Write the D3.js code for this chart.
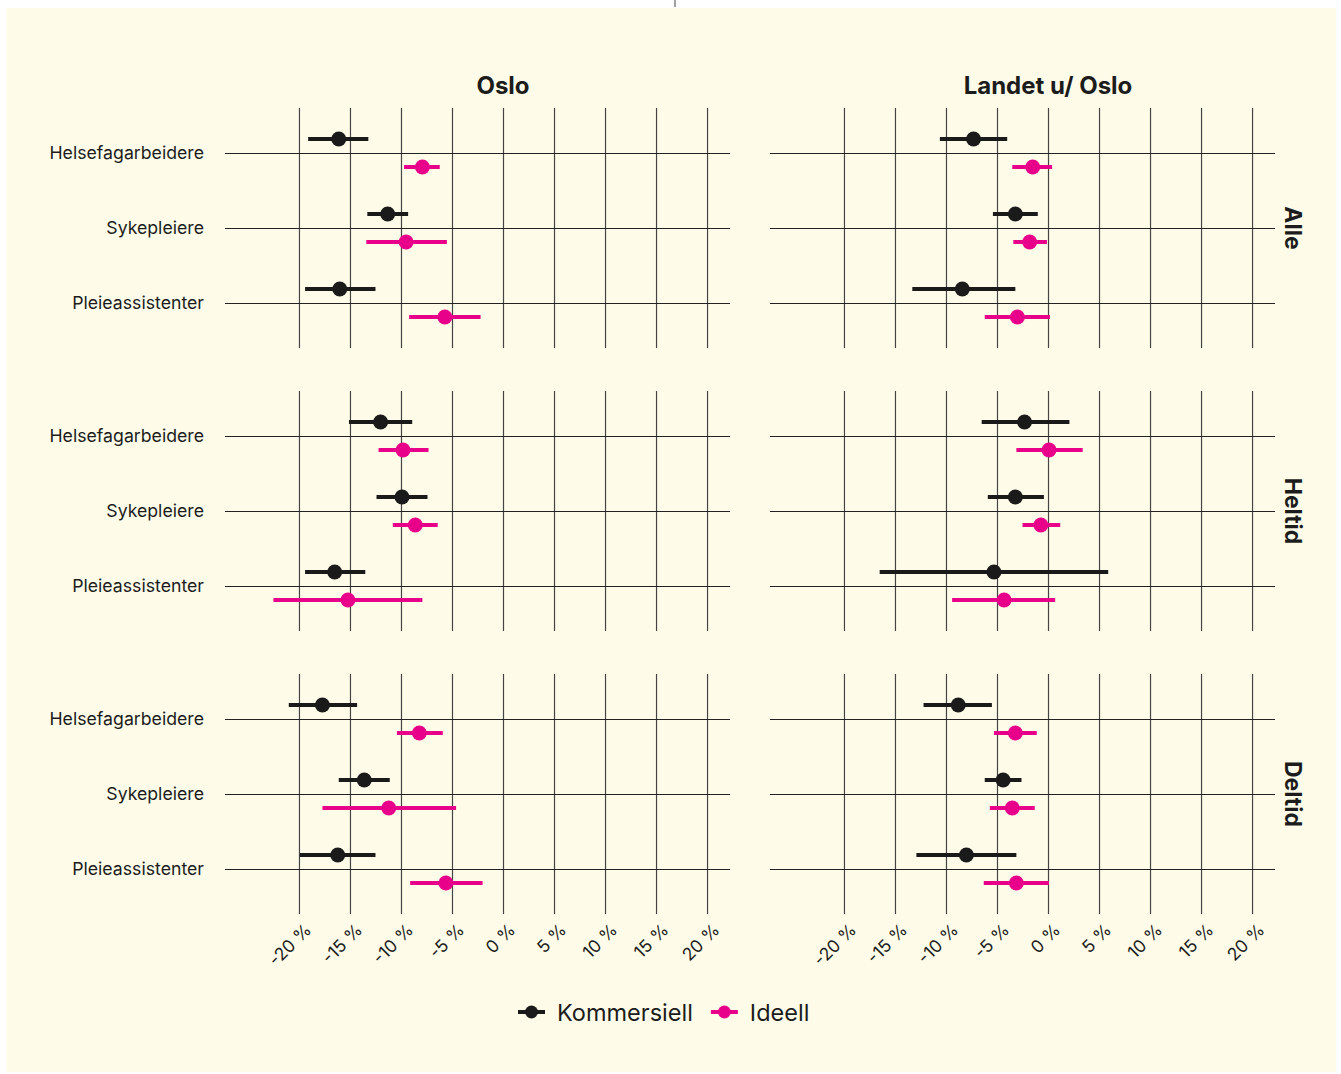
<!DOCTYPE html>
<html>
<head>
<meta charset="utf-8">
<script src="https://cdn.jsdelivr.net/npm/d3@7"></script>
<style>
  body { margin: 0; background: #fff; }
  text { font-family: Inter, "Noto Sans", sans-serif; fill: #1c1c1c; }
</style>
</head>
<body>
<svg id="chart" width="1341" height="1074"></svg>
<script>
// categories and facets
var categories = ["Helsefagarbeidere", "Sykepleiere", "Pleieassistenter"];
var regions = ["Oslo", "Landet u/ Oslo"];
var groups = ["Alle", "Heltid", "Deltid"];
var series = ["Kommersiell", "Ideell"];
var tickValues = [-20, -15, -10, -5, 0, 5, 10, 15, 20];

// [estimate, lower, upper] in %, one row per category
var osloAlleKomm   = [[-16.1, -19.1, -13.2], [-11.3, -13.3, -9.3], [-16.0, -19.4, -12.5]];
var osloAlleIdeell = [[-7.9, -9.7, -6.2], [-9.5, -13.4, -5.5], [-5.7, -9.2, -2.2]];
var osloHelKomm    = [[-12.0, -15.1, -8.9], [-9.9, -12.4, -7.4], [-16.5, -19.4, -13.5]];
var osloHelIdeell  = [[-9.8, -12.2, -7.3], [-8.6, -10.8, -6.4], [-15.2, -22.5, -7.9]];
var osloDelKomm    = [[-17.7, -21.0, -14.3], [-13.6, -16.1, -11.1], [-16.2, -19.9, -12.5]];
var osloDelIdeell  = [[-8.2, -10.4, -5.9], [-11.2, -17.7, -4.6], [-5.6, -9.1, -2.0]];
var landAlleKomm   = [[-7.3, -10.6, -4.0], [-3.2, -5.4, -1.0], [-8.4, -13.3, -3.2]];
var landAlleIdeell = [[-1.5, -3.5, 0.4], [-1.8, -3.4, -0.1], [-3.0, -6.2, 0.2]];
var landHelKomm    = [[-2.3, -6.5, 2.1], [-3.2, -5.9, -0.4], [-5.3, -16.5, 5.9]];
var landHelIdeell  = [[0.1, -3.1, 3.4], [-0.7, -2.5, 1.2], [-4.3, -9.4, 0.7]];
var landDelKomm    = [[-8.8, -12.2, -5.5], [-4.4, -6.2, -2.6], [-8.0, -12.9, -3.1]];
var landDelIdeell  = [[-3.2, -5.3, -1.1], [-3.5, -5.7, -1.3], [-3.1, -6.3, 0.1]];

var panelData = [
    [[osloAlleKomm, osloAlleIdeell], [landAlleKomm, landAlleIdeell]],
    [[osloHelKomm, osloHelIdeell], [landHelKomm, landHelIdeell]],
    [[osloDelKomm, osloDelIdeell], [landDelKomm, landDelIdeell]]
];

var colors = {"Kommersiell": "#1a1a1a", "Ideell": "#e8008a"};
var offsets = {"Kommersiell": -14, "Ideell": 14};

var svg = d3.select("#chart");

svg.append("rect")
    .attr("x", 6).attr("y", 8)
    .attr("width", 1330).attr("height", 1064)
    .attr("fill", "#fefce9");

svg.append("line")
    .attr("x1", 675).attr("x2", 675)
    .attr("y1", 0).attr("y2", 7)
    .attr("stroke", "#444");

var colX = [[225, 730], [770, 1275]];
var rowTop = [108, 391, 674];
var panelH = 240;

var xScales = colX.map(function(r) {
    return d3.scaleLinear().domain([-27.25, 22.25]).range(r);
});

// column titles
regions.forEach(function(reg, c) {
    svg.append("text")
        .attr("x", xScales[c](0))
        .attr("y", 94)
        .attr("text-anchor", "middle")
        .attr("font-size", 24)
        .attr("font-weight", 700)
        .text(reg);
});

groups.forEach(function(grp, r) {
    var top = rowTop[r];
    var y = d3.scalePoint().domain(categories).range([top, top + panelH]).padding(0.6);

    // row strip label
    svg.append("text")
        .attr("transform", "translate(1285," + (top + panelH / 2) + ") rotate(90)")
        .attr("text-anchor", "middle")
        .attr("font-size", 23)
        .attr("font-weight", 700)
        .text(grp);

    regions.forEach(function(reg, c) {
        var x = xScales[c];
        var g = svg.append("g");

        // vertical grid lines (+ tick labels on bottom row)
        var xAxis = d3.axisBottom(x)
            .tickValues(tickValues)
            .tickSize(-panelH)
            .tickFormat(function(d) { return d + " %"; });
        var xg = g.append("g")
            .attr("transform", "translate(0," + (top + panelH) + ")")
            .call(xAxis);
        xg.select(".domain").remove();
        xg.selectAll(".tick line").attr("stroke", "#444").attr("stroke-width", 1.2);
        if (r === groups.length - 1) {
            xg.selectAll(".tick text")
                .attr("x", null).attr("y", null).attr("dy", null)
                .attr("transform", "translate(13,17) rotate(-45)")
                .attr("text-anchor", "end")
                .attr("font-family", "Inter, sans-serif")
                .attr("font-size", 17.5)
                .attr("fill", "#1c1c1c");
        } else {
            xg.selectAll(".tick text").remove();
        }

        // horizontal grid lines (+ category labels on left column)
        var yAxis = d3.axisLeft(y)
            .tickSize(-(colX[c][1] - colX[c][0]))
            .tickPadding(21);
        var yg = g.append("g")
            .attr("transform", "translate(" + colX[c][0] + ",0)")
            .call(yAxis);
        yg.select(".domain").remove();
        yg.selectAll(".tick line").attr("stroke", "#222").attr("stroke-width", 1.1);
        if (c === 0) {
            yg.selectAll(".tick text")
                .attr("font-family", "Inter, sans-serif")
                .attr("font-size", 17.7)
                .attr("fill", "#1c1c1c");
        } else {
            yg.selectAll(".tick text").remove();
        }

        // points with intervals
        series.forEach(function(s, si) {
            var vals = panelData[r][c][si];
            var pts = categories.map(function(cat, i) {
                return {cat: cat, est: vals[i][0], lo: vals[i][1], hi: vals[i][2]};
            });
            var sg = g.append("g");
            sg.selectAll("line")
                .data(pts)
                .enter().append("line")
                .attr("x1", function(d) { return x(d.lo); })
                .attr("x2", function(d) { return x(d.hi); })
                .attr("y1", function(d) { return y(d.cat) + offsets[s]; })
                .attr("y2", function(d) { return y(d.cat) + offsets[s]; })
                .attr("stroke", colors[s])
                .attr("stroke-width", 4);
            sg.selectAll("circle")
                .data(pts)
                .enter().append("circle")
                .attr("cx", function(d) { return x(d.est); })
                .attr("cy", function(d) { return y(d.cat) + offsets[s]; })
                .attr("r", 7.5)
                .attr("fill", colors[s]);
        });
    });
});

// legend
var lx = 518, ly = 1012;
series.forEach(function(s) {
    var lg = svg.append("g").attr("transform", "translate(" + lx + "," + ly + ")");
    lg.append("line")
        .attr("x1", 0).attr("x2", 27)
        .attr("stroke", colors[s]).attr("stroke-width", 4);
    lg.append("circle")
        .attr("cx", 13.5).attr("r", 6.5)
        .attr("fill", colors[s]);
    var t = lg.append("text")
        .attr("x", 39).attr("y", 8.5)
        .attr("font-size", 23.5)
        .text(s);
    lx += 39 + t.node().getComputedTextLength() + 18;
});
</script>
</body>
</html>
